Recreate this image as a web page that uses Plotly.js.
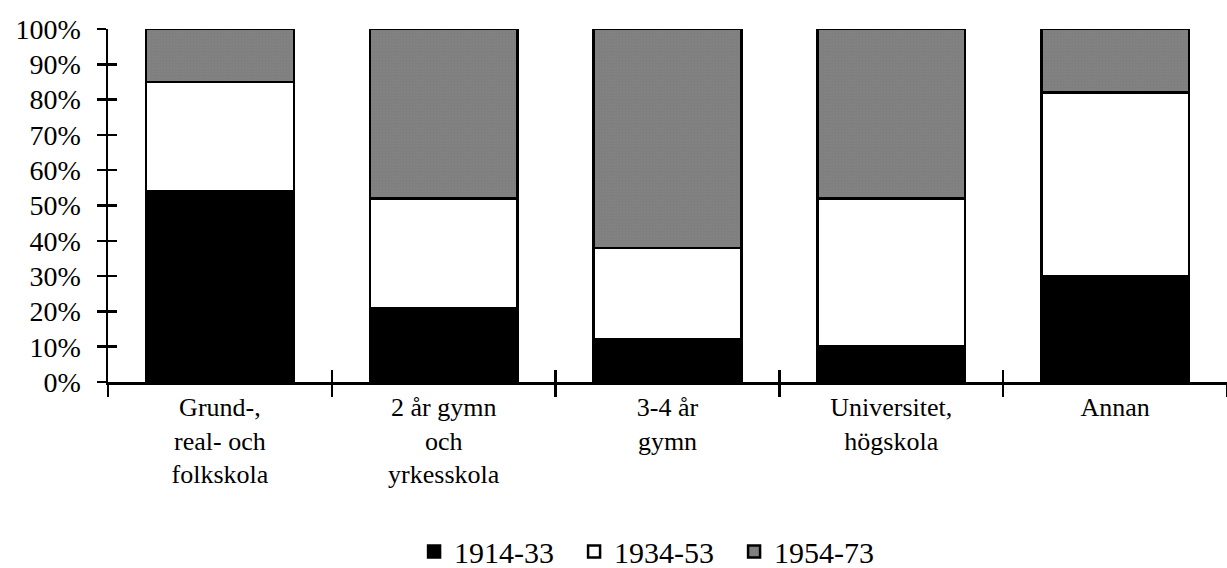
<!DOCTYPE html>
<html>
<head>
<meta charset="utf-8">
<script src="https://cdn.plot.ly/plotly-3.0.1.min.js"></script>
<style>html,body{margin:0;padding:0;background:#fff;}#chart{width:1227px;height:568px;}</style>
</head>
<body>
<div id="chart"></div>
<script>
const categories = ["Grund-,<br>real- och<br>folkskola", "2 år gymn<br>och<br>yrkesskola", "3-4 år<br>gymn", "Universitet,<br>högskola", "Annan"];
const seriesNames = ["1914-33", "1934-53", "1954-73"];
const s1914 = [54, 21, 12, 10, 30];
const s1934 = [31, 31, 26, 42, 52];
const s1954 = [15, 48, 62, 48, 18];
const yTicks = [0, 10, 20, 30, 40, 50, 60, 70, 80, 90, 100];

const fam = "Liberation Serif";
const line = {color: "#000", width: 2.5};

const traces = [
  {type: "bar", name: seriesNames[0], x: categories, y: s1914,
   marker: {color: "#000", line: line}, width: 0.66, cliponaxis: false, hoverinfo: "skip"},
  {type: "bar", name: seriesNames[1], x: categories, y: s1934,
   marker: {color: "#fff", line: line}, width: 0.66, cliponaxis: false, hoverinfo: "skip"},
  {type: "bar", name: seriesNames[2], x: categories, y: s1954,
   marker: {color: "#fff", line: line,
            pattern: {shape: ".", size: 3, solidity: 0.9, fgcolor: "#000", bgcolor: "#fff", fillmode: "overlay"}},
   width: 0.66, cliponaxis: false, hoverinfo: "skip"},
  {type: "bar", x: categories, y: s1914.map(() => 0), xaxis: "x2", yaxis: "y2",
   showlegend: false, hoverinfo: "skip", opacity: 0}
];

const layout = {
  width: 1227, height: 568,
  margin: {l: 108, r: 0, t: 29, b: 186, autoexpand: false},
  paper_bgcolor: "#fff", plot_bgcolor: "#fff",
  barmode: "stack",
  font: {family: fam, color: "#000", size: 26},
  showlegend: true,
  legend: {orientation: "h", x: 0.488, xanchor: "center", y: -0.48, yanchor: "middle",
           font: {family: fam, color: "#000", size: 30}, traceorder: "normal", itemwidth: 30,
           entrywidth: 115, entrywidthmode: "pixels"},
  xaxis: {type: "category", categoryarray: categories, range: [-0.5, 4.5],
          showline: true, linecolor: "#000", linewidth: 2.5,
          ticks: "outside", tickson: "boundaries", ticklen: 12, tickwidth: 2.5, tickcolor: "#000",
          showgrid: false, zeroline: false, tickfont: {family: fam, color: "#000", size: 26}, fixedrange: true},
  yaxis: {range: [0, 100], tickvals: yTicks, ticktext: yTicks.map(v => v + "%"),
          showline: true, linecolor: "#000", linewidth: 2.5,
          ticks: "outside", ticklen: 9, tickwidth: 2.5, tickcolor: "#000",
          showgrid: false, zeroline: false, tickfont: {family: fam, color: "#000", size: 28},
          ticklabelstandoff: 10, fixedrange: true},
  xaxis2: {type: "category", categoryarray: categories, range: [-0.5, 4.5], overlaying: "x",
           ticks: "inside", tickson: "boundaries", ticklen: 12, tickwidth: 2.5, tickcolor: "#000",
           showticklabels: false, showgrid: false, zeroline: false, showline: false, side: "bottom"},
  yaxis2: {range: [0, 100], tickvals: yTicks, overlaying: "y",
           ticks: "inside", ticklen: 9, tickwidth: 2.5, tickcolor: "#000",
           showticklabels: false, showgrid: false, zeroline: false, showline: false, side: "left"}
};

Plotly.newPlot("chart", traces, layout, {displayModeBar: false, staticPlot: true});
</script>
</body>
</html>
